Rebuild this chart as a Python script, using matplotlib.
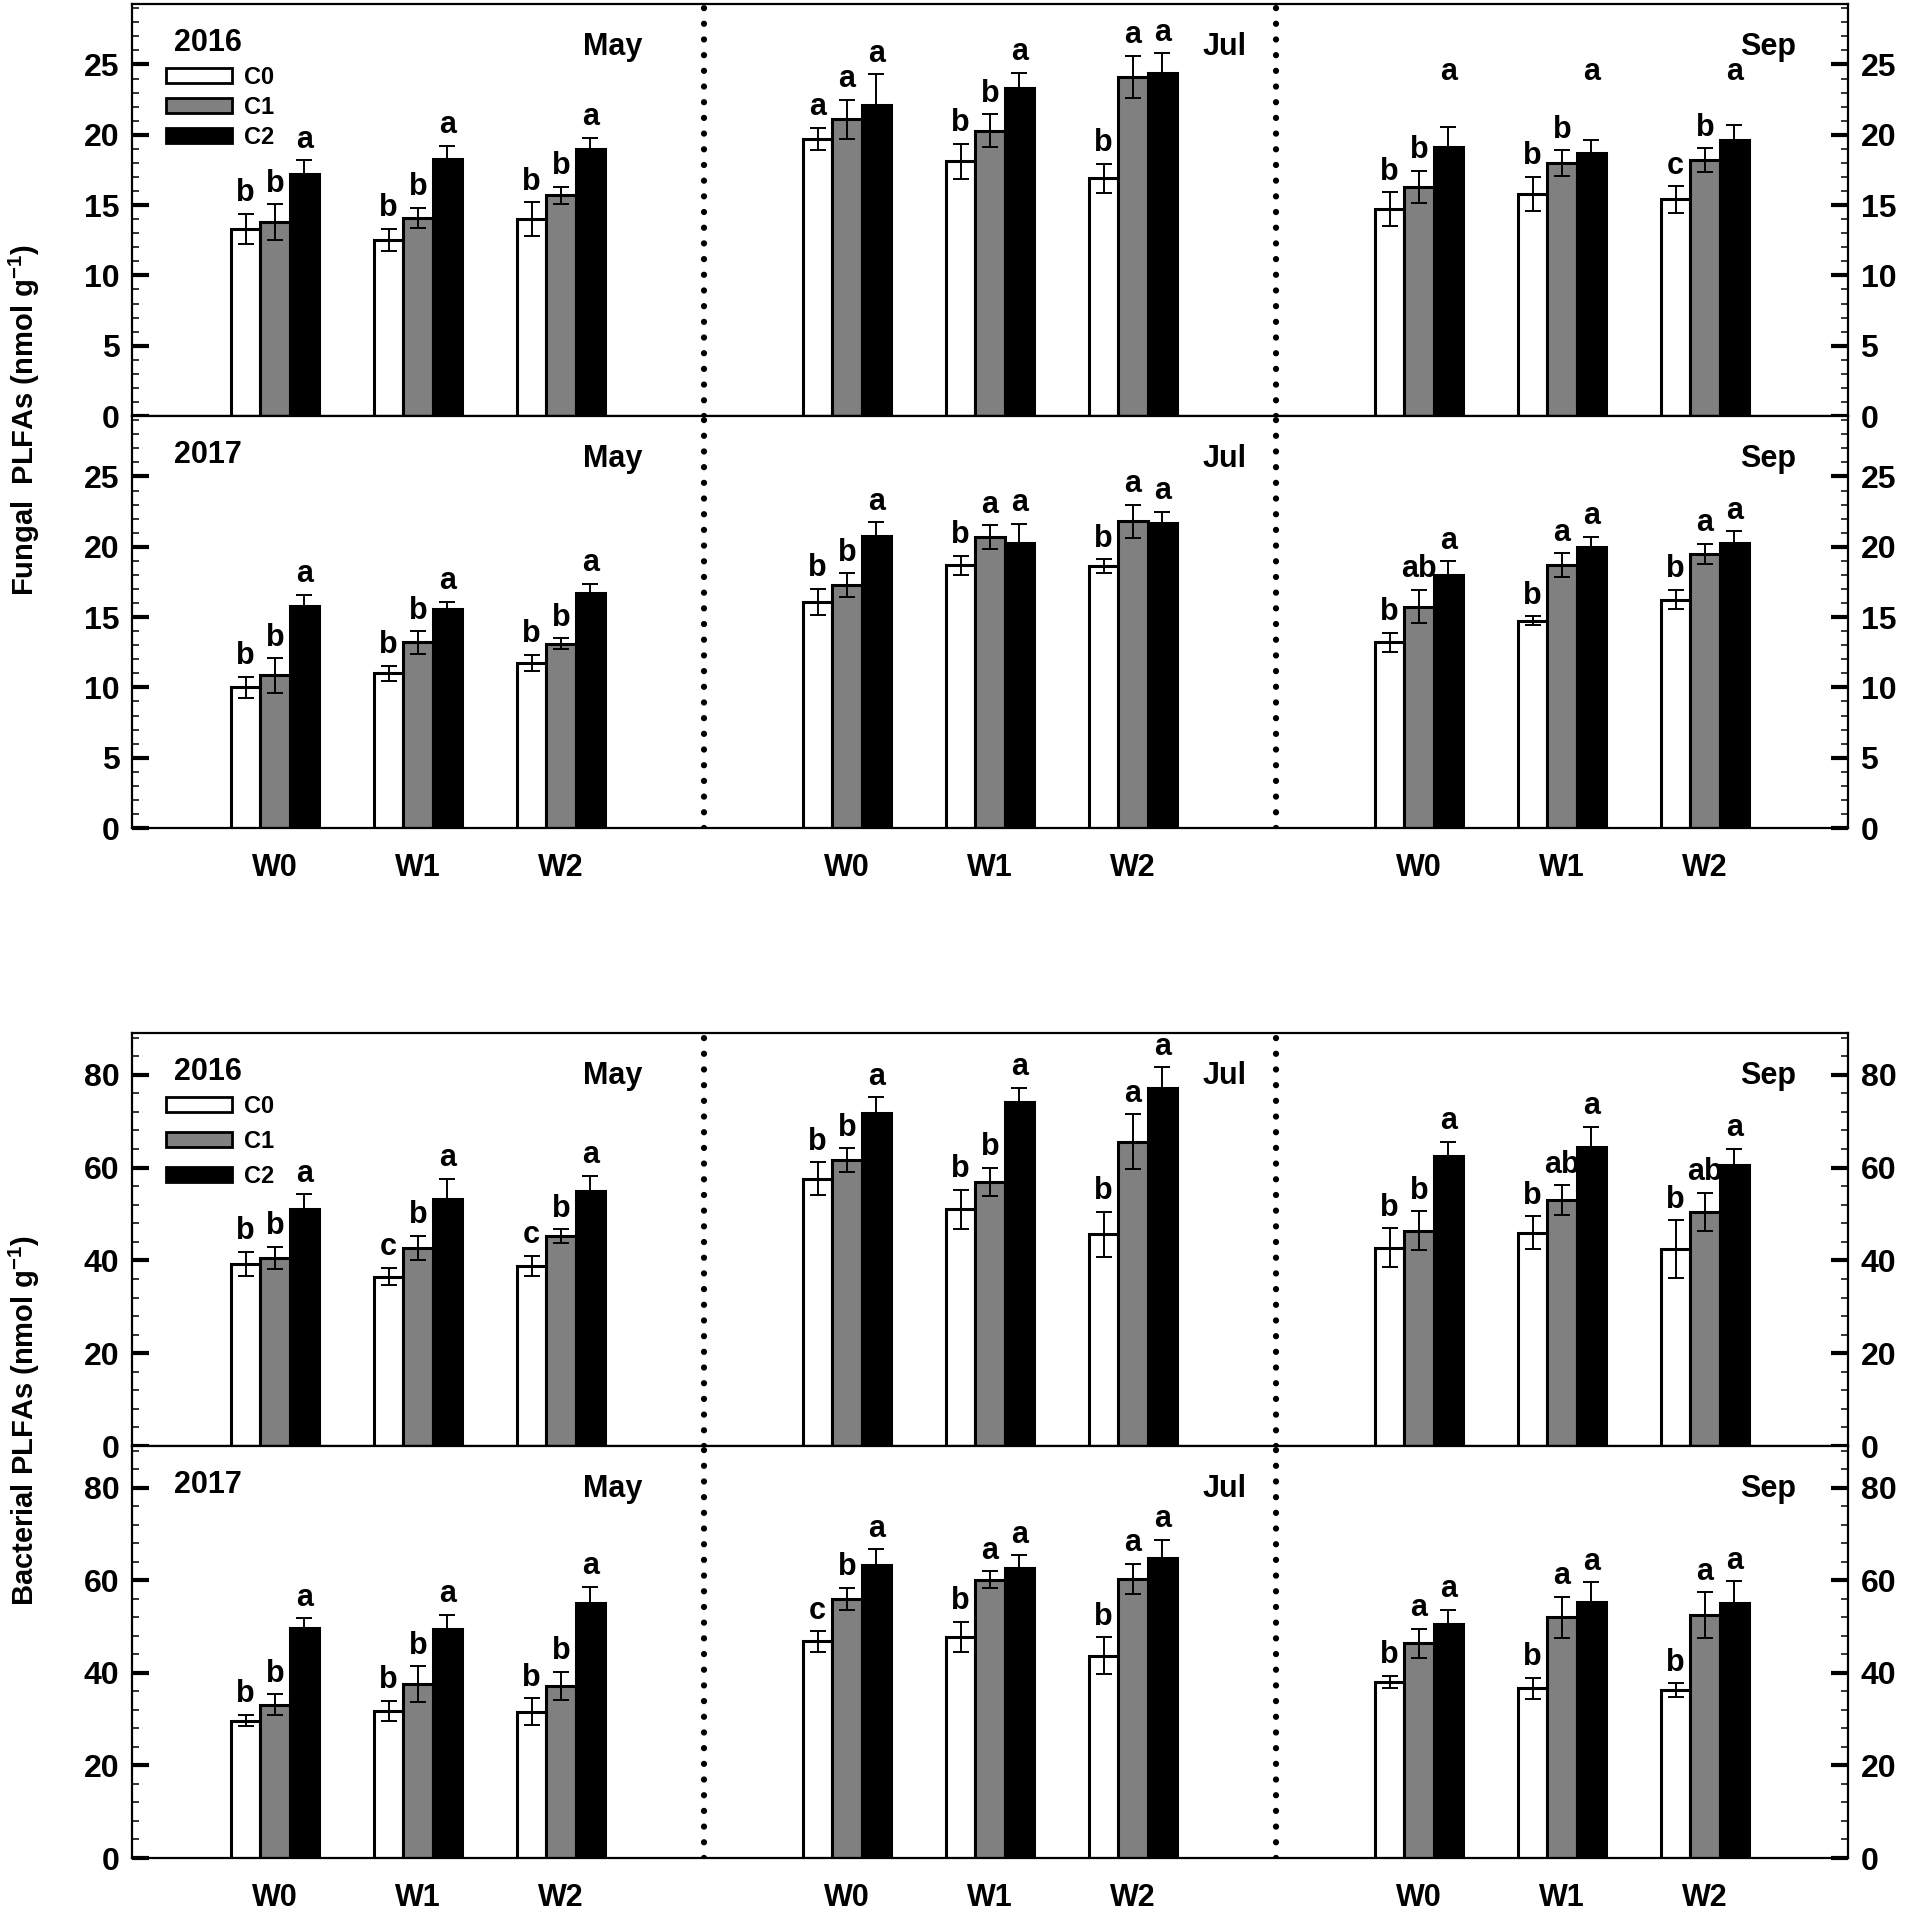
import matplotlib
matplotlib.use('Agg')
import matplotlib.pyplot as plt
from matplotlib.patches import Patch
from matplotlib.ticker import MultipleLocator

plt.rcParams['font.family'] = ['Liberation Sans', 'DejaVu Sans']
plt.rcParams['font.weight'] = 'bold'
plt.rcParams['mathtext.fontset'] = 'custom'
plt.rcParams['mathtext.rm'] = 'Liberation Sans:bold'
plt.rcParams['mathtext.it'] = 'Liberation Sans:bold'
plt.rcParams['mathtext.bf'] = 'Liberation Sans:bold'

# ---------------- data ----------------
months = ['May', 'Jul', 'Sep']
water = ['W0', 'W1', 'W2']
treatments = ['C0', 'C1', 'C2']
years = ['2016', '2017']

# order: month -> water level -> treatment (C0, C1, C2)
fungal_2016_mean = [
    [[13.3, 13.8, 17.2], [12.5, 14.1, 18.3], [14.0, 15.7, 19.0]],
    [[19.7, 21.1, 22.1], [18.1, 20.3, 23.3], [16.9, 24.1, 24.4]],
    [[14.7, 16.3, 19.1], [15.8, 18.0, 18.7], [15.4, 18.2, 19.6]],
]
fungal_2016_err = [
    [[1.1, 1.25, 1.0], [0.8, 0.7, 0.9], [1.2, 0.6, 0.8]],
    [[0.8, 1.4, 2.2], [1.25, 1.15, 1.1], [1.05, 1.5, 1.4]],
    [[1.2, 1.15, 1.45], [1.2, 0.9, 0.95], [0.95, 0.85, 1.1]],
]
fungal_2016_letters = [
    [['b', 'b', 'a'], ['b', 'b', 'a'], ['b', 'b', 'a']],
    [['a', 'a', 'a'], ['b', 'b', 'a'], ['b', 'a', 'a']],
    [['b', 'b', 'a'], ['b', 'b', 'a'], ['c', 'b', 'a']],
]

fungal_2017_mean = [
    [[10.0, 10.85, 15.8], [11.0, 13.2, 15.6], [11.75, 13.1, 16.7]],
    [[16.1, 17.25, 20.8], [18.67, 20.7, 20.26], [18.6, 21.8, 21.7]],
    [[13.2, 15.75, 17.96], [14.75, 18.7, 19.97], [16.25, 19.5, 20.26]],
]
fungal_2017_err = [
    [[0.76, 1.23, 0.8], [0.55, 0.8, 0.5], [0.55, 0.4, 0.66]],
    [[0.92, 0.85, 0.95], [0.7, 0.83, 1.38], [0.5, 1.2, 0.78]],
    [[0.68, 1.2, 1.0], [0.32, 0.83, 0.76], [0.7, 0.7, 0.83]],
]
fungal_2017_letters = [
    [['b', 'b', 'a'], ['b', 'b', 'a'], ['b', 'b', 'a']],
    [['b', 'b', 'a'], ['b', 'a', 'a'], ['b', 'a', 'a']],
    [['b', 'ab', 'a'], ['b', 'a', 'a'], ['b', 'a', 'a']],
]

bacterial_2016_mean = [
    [[39.2, 40.6, 51.0], [36.5, 42.7, 53.2], [38.8, 45.25, 55.0]],
    [[57.6, 61.6, 71.7], [51.0, 56.9, 74.2], [45.6, 65.6, 77.1]],
    [[42.7, 46.4, 62.5], [46.0, 53.0, 64.5], [42.4, 50.5, 60.6]],
]
bacterial_2016_err = [
    [[2.6, 2.35, 3.2], [1.85, 2.6, 4.4], [2.2, 1.45, 3.2]],
    [[3.5, 2.55, 3.45], [4.2, 3.1, 3.0], [4.9, 5.9, 4.5]],
    [[4.2, 4.2, 3.1], [3.5, 3.2, 4.3], [6.2, 4.1, 3.5]],
]
bacterial_2016_letters = [
    [['b', 'b', 'a'], ['c', 'b', 'a'], ['c', 'b', 'a']],
    [['b', 'b', 'a'], ['b', 'b', 'a'], ['b', 'a', 'a']],
    [['b', 'b', 'a'], ['b', 'ab', 'a'], ['b', 'ab', 'a']],
]

bacterial_2017_mean = [
    [[29.7, 33.1, 49.6], [31.8, 37.6, 49.5], [31.6, 37.2, 55.0]],
    [[46.8, 56.0, 63.4], [47.8, 60.1, 62.6], [43.7, 60.3, 64.9]],
    [[38.0, 46.4, 50.5], [36.7, 52.0, 55.4], [36.3, 52.5, 55.0]],
]
bacterial_2017_err = [
    [[1.2, 2.3, 2.2], [2.2, 3.85, 3.0], [2.9, 3.05, 3.6]],
    [[2.2, 2.35, 3.3], [3.2, 1.8, 2.8], [4.0, 3.2, 3.8]],
    [[1.35, 3.1, 3.1], [2.25, 4.4, 4.2], [1.45, 4.9, 4.8]],
]
bacterial_2017_letters = [
    [['b', 'b', 'a'], ['b', 'b', 'a'], ['b', 'b', 'a']],
    [['c', 'b', 'a'], ['b', 'a', 'a'], ['b', 'a', 'a']],
    [['b', 'a', 'a'], ['b', 'a', 'a'], ['b', 'a', 'a']],
]

# letters of C2 in Fungal 2016 Sep sit at a common height
fixed_letter_height = {('fungal', '2016', 'Sep'): 23.4}

# ---------------- style ----------------
bar_colors = ['white', '#808080', 'black']
bar_width = 0.205
month_label_x = [3.36, 7.64, 11.44]

fig = plt.figure(figsize=(19.05, 19.10), dpi=100)
FW, FH = 1905.0, 1910.0
left = 132 / FW
width = 1716 / FW

panel_px = {
    ('fungal', '2016'): (4, 416),
    ('fungal', '2017'): (416, 828),
    ('bacterial', '2016'): (1033, 1446),
    ('bacterial', '2017'): (1446, 1858),
}

datasets = {
    ('fungal', '2016'): (fungal_2016_mean, fungal_2016_err, fungal_2016_letters),
    ('fungal', '2017'): (fungal_2017_mean, fungal_2017_err, fungal_2017_letters),
    ('bacterial', '2016'): (bacterial_2016_mean, bacterial_2016_err, bacterial_2016_letters),
    ('bacterial', '2017'): (bacterial_2017_mean, bacterial_2017_err, bacterial_2017_letters),
}

for (var, yr), (top, bot) in panel_px.items():
    ax = fig.add_axes([left, 1 - bot / FH, width, (bot - top) / FH])
    means, errs, letters = datasets[(var, yr)]
    group_x = []
    for mi, m in enumerate(months):
        for wi in range(3):
            gx = mi * 4 + wi + 1
            group_x.append(gx)
            for ci in range(3):
                x = gx + (ci - 1) * bar_width
                val = means[mi][wi][ci]
                er = errs[mi][wi][ci]
                ax.bar(x, val, bar_width, color=bar_colors[ci], edgecolor='black',
                       linewidth=2.2, zorder=2)
                ax.errorbar(x, val, yerr=er, fmt='none', ecolor='black',
                            elinewidth=1.4, capsize=6, capthick=1.4, zorder=3)
                key = (var, yr, m)
                if ci == 2 and key in fixed_letter_height:
                    ax.text(x, fixed_letter_height[key], letters[mi][wi][ci],
                            ha='center', va='bottom', fontsize=22, fontweight='bold', zorder=4)
                else:
                    ax.annotate(letters[mi][wi][ci], (x, val + er), xytext=(0, 4),
                                textcoords='offset points', ha='center', va='bottom',
                                fontsize=22, fontweight='bold', zorder=4)
        ax.text(month_label_x[mi], 0.895, m, transform=ax.get_xaxis_transform(),
                ha='center', va='center', fontsize=22, fontweight='bold')

    for xv in (4, 8):
        ax.axvline(xv, color='black', lw=4.5, linestyle=(0, (0.01, 2.5)),
                   dash_capstyle='round', zorder=1)

    ax.text(0.0245, 0.905, yr, transform=ax.transAxes, ha='left', va='center',
            fontsize=22, fontweight='bold')

    ax.set_xlim(0, 12)
    if var == 'fungal':
        ax.set_ylim(0, 29.3)
        ax.set_yticks(range(0, 26, 5))
        ax.yaxis.set_minor_locator(MultipleLocator(1))
    else:
        ax.set_ylim(0, 89)
        ax.set_yticks(range(0, 81, 20))
        ax.yaxis.set_minor_locator(MultipleLocator(4))

    ax.tick_params(axis='y', which='both', direction='in', left=True, right=True,
                   labelleft=True, labelright=True, labelsize=23, pad=9)
    ax.tick_params(axis='y', which='major', length=12, width=3.0)
    ax.tick_params(axis='y', which='minor', length=5, width=1.1)
    for lab in ax.get_yticklabels():
        lab.set_fontweight('bold')

    if yr == '2017':
        ax.set_xticks(group_x)
        ax.set_xticklabels([water[i % 3] for i in range(9)], fontsize=22, fontweight='bold')
        ax.tick_params(axis='x', length=0, pad=18)
    else:
        ax.set_xticks([])
        handles = [Patch(facecolor=bar_colors[i], edgecolor='black', linewidth=2.0,
                         label=treatments[i]) for i in range(3)]
        ax.legend(handles=handles, loc='upper left', bbox_to_anchor=(0.0198, 0.85),
                  frameon=False, prop={'size': 17, 'weight': 'bold'},
                  handlelength=2.8, handleheight=0.6, handletextpad=0.5,
                  labelspacing=0.3 if var == 'fungal' else 0.5,
                  borderpad=0, borderaxespad=0)

    for sp in ax.spines.values():
        sp.set_linewidth(1.6)

fig.text(24 / FW, 1 - 420 / FH, 'Fungal  PLFAs (nmol g$^{-1}$)', rotation=90,
         ha='center', va='center', fontsize=21, fontweight='bold')
fig.text(24 / FW, 1 - 1420 / FH, 'Bacterial PLFAs (nmol g$^{-1}$)', rotation=90,
         ha='center', va='center', fontsize=21, fontweight='bold')

fig.savefig('out.png', dpi=100)
